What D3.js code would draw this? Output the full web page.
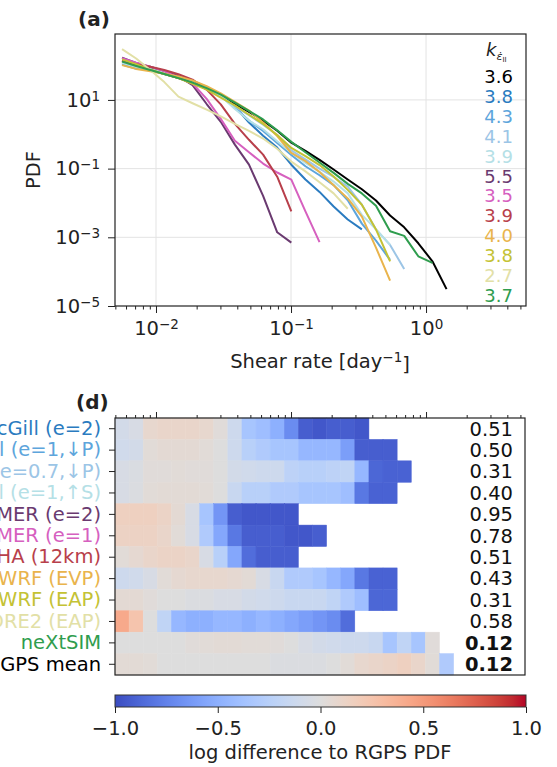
<!DOCTYPE html>
<html>
<head>
<meta charset="utf-8">
<script src="https://cdn.jsdelivr.net/npm/d3@7"></script>
<style>
  body { margin: 0; background: #fff; }
  svg { display: block; font-family: "DejaVu Sans", sans-serif; }
</style>
</head>
<body>
<svg id="fig" width="557" height="767"></svg>
<script>
// shear rate bin edges [day^-1], same bins for the PDFs and the difference map
const shearEdges = [0.00497, 0.00632, 0.00804, 0.01022, 0.0130, 0.01654, 0.02104, 0.02676, 0.03404, 0.0433,
    0.05508, 0.07006, 0.08913, 0.1134, 0.1442, 0.1834, 0.2333, 0.2968, 0.3776, 0.4803,
    0.6109, 0.7772, 0.9886, 1.258, 1.600];

// (a) PDFs, one value per bin
const pdfRGPS = [135, 97, 74, 57, 43, 31, 21, 13, 7.7, 4.5, 2.5, 1.26, 0.57, 0.33, 0.18, 0.094, 0.048, 0.025, 0.0118, 0.0043, 0.00195, 0.00067, 0.0002, 3.1e-5];
const pdfMcGillE2 = [115, 92, 85, 66, 50, 36, 24, 13.5, 6.5, 2.2, 0.9, 0.41, 0.13, 0.048, 0.021, 0.0079, 0.0033, 0.0017];
const pdfMcGillE1P = [107, 81, 79, 64, 48, 35, 22.5, 13, 5.8, 2.5, 1.25, 0.56, 0.25, 0.117, 0.064, 0.033, 0.012, 0.0025, 0.0008, 0.00022];
const pdfMcGillE07P = [120, 91, 75, 58, 46, 32, 21.5, 13, 6.4, 3.6, 1.9, 0.95, 0.34, 0.185, 0.10, 0.057, 0.030, 0.0089, 0.0017, 0.0006, 0.00012];
const pdfMcGillE1S = [120, 92, 79, 62, 47, 34, 22.5, 13, 5.45, 2.5, 1.4, 0.63, 0.29, 0.147, 0.08, 0.042, 0.019, 0.0045, 0.0017, 0.0006];
const pdfMerE2 = [170, 120, 92, 70, 48, 27, 7.6, 2.3, 0.5, 0.13, 0.016, 0.0014, 0.0007];
const pdfMerE1 = [165, 122, 93, 69, 45, 30, 10.7, 2.8, 0.65, 0.3, 0.14, 0.077, 0.048, 0.0057, 0.00072];
const pdfHA = [140, 110, 92, 74, 56, 39, 20, 7.4, 2.0, 0.69, 0.255, 0.058, 0.0057];
const pdfWrfEvp = [103, 80, 68, 58, 48, 37, 25, 15.6, 8.8, 4.9, 2.2, 0.89, 0.285, 0.165, 0.08, 0.033, 0.0135, 0.004, 0.0005, 5.5e-5];
const pdfWrfEap = [151, 109, 77, 57, 43, 29.6, 20, 11.6, 6.9, 3.7, 2.0, 0.95, 0.40, 0.23, 0.127, 0.059, 0.024, 0.0089, 0.0017, 0.0002];
const pdfCore2Eap = [302, 161, 74, 33, 12.5, 8, 5.2, 3.3, 2.0, 1.25, 0.75, 0.38, 0.16, 0.083, 0.040, 0.019, 0.0068];
const pdfNextsim = [130, 97, 74, 57, 43, 32, 22, 14.2, 8.4, 4.8, 2.7, 1.3, 0.6, 0.30, 0.15, 0.075, 0.036, 0.019, 0.0083, 0.0015, 0.0011, 0.00028, 0.00018];

const legendK = ["3.6", "3.8", "4.3", "4.1", "3.9", "5.5", "3.5", "3.9", "4.0", "3.8", "2.7", "3.7"];

// (d) log difference to RGPS PDF, one row per model
const diffMcGillE2 = [-0.08, -0.05, 0.08, 0.1, 0.1, 0.1, 0.08, 0.02, -0.12, -0.35, -0.4, -0.5, -0.7, -0.92, -0.95, -0.92, -0.92, -0.95];
const diffMcGillE1P = [-0.1, -0.08, 0.03, 0.05, 0.05, 0.05, 0.03, 0.0, -0.12, -0.25, -0.3, -0.35, -0.35, -0.45, -0.45, -0.45, -0.6, -0.92, -0.92, -0.92];
const diffMcGillE07P = [-0.05, -0.03, 0.02, 0.02, 0.03, 0.02, 0.02, 0.0, -0.08, -0.1, -0.12, -0.12, -0.22, -0.25, -0.25, -0.22, -0.2, -0.45, -0.88, -0.9, -0.9];
const diffMcGillE1S = [-0.05, -0.02, 0.03, 0.04, 0.04, 0.04, 0.03, 0.0, -0.15, -0.25, -0.25, -0.3, -0.3, -0.35, -0.35, -0.35, -0.4, -0.8, -0.9, -0.9];
const diffMerE2 = [0.15, 0.15, 0.15, 0.12, 0.05, -0.05, -0.35, -0.65, -0.92, -0.95, -0.95, -0.95, -0.95];
const diffMerE1 = [0.13, 0.13, 0.13, 0.1, 0.03, -0.05, -0.3, -0.55, -0.8, -0.92, -0.92, -0.92, -0.95, -0.95, -0.92];
const diffHA = [0.03, 0.06, 0.1, 0.12, 0.12, 0.1, -0.05, -0.25, -0.55, -0.85, -0.92, -0.92, -0.92];
const diffWrfEvp = [-0.12, -0.1, -0.05, 0.03, 0.06, 0.08, 0.08, 0.08, 0.06, 0.04, -0.05, -0.15, -0.3, -0.3, -0.35, -0.45, -0.55, -0.8, -0.9, -0.9];
const diffWrfEap = [0.05, 0.05, 0.02, 0.0, 0.0, -0.02, -0.02, -0.05, -0.05, -0.08, -0.1, -0.12, -0.15, -0.15, -0.15, -0.2, -0.3, -0.4, -0.88, -0.88];
const diffCore2Eap = [0.42, 0.25, 0.0, -0.2, -0.45, -0.5, -0.5, -0.45, -0.45, -0.5, -0.45, -0.5, -0.55, -0.6, -0.65, -0.7, -0.85];
const diffNextsim = [0.0, 0.0, 0.0, 0.0, 0.0, 0.02, 0.03, 0.04, 0.04, 0.03, 0.03, 0.02, 0.0, -0.05, -0.08, -0.1, -0.12, -0.12, -0.15, -0.35, -0.2, -0.35, 0.02];
const diffRgpsMean = [0.04, 0.04, 0.03, 0.0, 0.0, 0.0, 0.0, 0.0, 0.0, 0.0, 0.0, -0.02, -0.02, -0.02, -0.02, 0.0, 0.03, 0.08, 0.1, 0.12, 0.15, 0.1, 0.03, -0.3];

const rowNames = ["McGill (e=2)", "McGill (e=1,\u2193P)", "McGill (e=0.7,\u2193P)", "McGill (e=1,\u2191S)",
    "UMER (e=2)", "UMER (e=1)", "ALPHA (12km)", "RASM-WRF (EVP)", "RASM-WRF (EAP)",
    "CICE-CORE2 (EAP)", "neXtSIM", "RGPS mean"];
const rowScores = ["0.51", "0.50", "0.31", "0.40", "0.95", "0.78", "0.51", "0.43", "0.31", "0.58", "0.12", "0.12"];
const colorbarTicks = [-1, -0.5, 0, 0.5, 1];

// palette
const modelColors = ["#2a7bc0", "#5da5dc", "#9cc5e6", "#b5e0e6", "#6a3a70", "#d660bf", "#b83f4b",
    "#e9b44c", "#c4c234", "#e2e0a6", "#2f9d4e"];
const lineColors = ["#000000"].concat(modelColors);
const rowColors = modelColors.concat(["#000000"]);
const coolwarmStops = ["#3b4cc0","#445acc","#4d68d7","#5775e1","#6282ea","#6c8ef1","#779af7","#82a5fb",
    "#8db0fe","#98b9ff","#a3c2ff","#aec9fd","#b8d0f9","#c2d5f4","#ccd9ee","#d5dbe6","#dddddd",
    "#e5d8d1","#ecd3c5","#f1ccb9","#f5c4ad","#f7bba0","#f7b194","#f7a687","#f49a7b","#f18d6f",
    "#ec7f63","#e57058","#de604d","#d55042","#cb3e38","#c0282f","#b40426"];

const pdfSeries = [pdfRGPS, pdfMcGillE2, pdfMcGillE1P, pdfMcGillE07P, pdfMcGillE1S, pdfMerE2, pdfMerE1,
    pdfHA, pdfWrfEvp, pdfWrfEap, pdfCore2Eap, pdfNextsim];
const diffRows = [diffMcGillE2, diffMcGillE1P, diffMcGillE07P, diffMcGillE1S, diffMerE2, diffMerE1,
    diffHA, diffWrfEvp, diffWrfEap, diffCore2Eap, diffNextsim, diffRgpsMean];

const binCenters = shearEdges.slice(0, -1).map((e, i) => Math.sqrt(e * shearEdges[i + 1]));

const FS = 19.5;
const TXT = "#222";
const svg = d3.select("#fig");

const coolwarm = d3.scaleLinear()
    .domain(coolwarmStops.map((c, i) => -1 + 2 * i / (coolwarmStops.length - 1)))
    .range(coolwarmStops)
    .clamp(true);

// x scale shared by both panels
const x = d3.scaleLog().domain([0.00497, 5.5]).range([115, 526]);
const y = d3.scaleLog().domain([1e-5, 830]).range([306, 34]);

const xMajor = [0.01, 0.1, 1];
const xMinor = [];
[0.001, 0.01, 0.1, 1].forEach(function (dec) {
    for (let m = 2; m <= 9; m++) {
        const v = +(m * dec).toPrecision(3);
        if (v >= 0.00497 && v <= 5.5) xMinor.push(v);
    }
});
const yMajor = [10, 0.1, 1e-3, 1e-5];

function powerLabel(sel) {
    sel.each(function (d) {
        const t = d3.select(this);
        const e = Math.round(Math.log10(d));
        t.text(null);
        t.append("tspan").text("10");
        t.append("tspan").attr("dy", "-0.45em").attr("font-size", 13.5)
            .text(e < 0 ? "\u2212" + (-e) : e);
    });
}

function cleanAxis(g) {
    g.attr("font-size", null).attr("font-family", null);
    g.select(".domain").remove();
    g.selectAll("line").attr("stroke", "#222").attr("stroke-width", 1);
    g.selectAll("text").attr("font-size", FS).attr("fill", TXT);
}

// ---------- panel (a) ----------
const pa = svg.append("g");

pa.selectAll(".hgrid").data(yMajor.slice(0, 3)).enter().append("line")
    .attr("x1", 115).attr("x2", 526)
    .attr("y1", d => y(d)).attr("y2", d => y(d))
    .attr("stroke", "#e3e3e3").attr("stroke-width", 1);
pa.selectAll(".vgrid").data(xMajor).enter().append("line")
    .attr("y1", 34).attr("y2", 306)
    .attr("x1", d => x(d)).attr("x2", d => x(d))
    .attr("stroke", "#e3e3e3").attr("stroke-width", 1);

const line = d3.line()
    .x((d, i) => x(binCenters[i]))
    .y(d => y(d));

pa.selectAll(".pdf").data(pdfSeries).enter().append("path")
    .attr("d", d => line(d))
    .attr("fill", "none")
    .attr("stroke", (d, i) => lineColors[i])
    .attr("stroke-width", 2)
    .attr("stroke-linejoin", "round");

pa.append("g").attr("transform", "translate(0,306)")
    .call(d3.axisBottom(x).tickValues(xMinor).tickSize(3.5).tickFormat(""))
    .call(cleanAxis);
pa.append("g").attr("transform", "translate(0,306)")
    .call(d3.axisBottom(x).tickValues(xMajor).tickSize(7).tickPadding(8))
    .call(cleanAxis)
    .selectAll("text").call(powerLabel);

pa.append("g").attr("transform", "translate(115,0)")
    .call(d3.axisLeft(y).tickValues(yMajor).tickSize(7).tickPadding(8))
    .call(cleanAxis)
    .selectAll("text").call(powerLabel);

pa.append("rect").attr("x", 115).attr("y", 34).attr("width", 411).attr("height", 272)
    .attr("fill", "none").attr("stroke", "#222").attr("stroke-width", 1.2);

// legend with exponents
const kHead = pa.append("text").attr("x", 486).attr("y", 56).attr("fill", TXT).attr("font-size", 18);
kHead.append("tspan").attr("font-style", "italic").text("k");
kHead.append("tspan").attr("font-style", "italic").attr("font-size", 11).attr("dy", 4).text("\u03b5\u0307");
kHead.append("tspan").attr("font-size", 7).attr("dy", 2).text("II");

pa.selectAll(".kval").data(legendK).enter().append("text")
    .attr("x", 513).attr("y", (d, i) => 83 + 19.9 * i)
    .attr("text-anchor", "end").attr("font-size", 18)
    .attr("fill", (d, i) => lineColors[i])
    .text(d => d);

pa.append("text").attr("x", 78).attr("y", 26).attr("font-size", 20).attr("font-weight", "bold")
    .attr("fill", TXT).text("(a)");

pa.append("text").attr("transform", "translate(40,170) rotate(-90)")
    .attr("text-anchor", "middle").attr("font-size", FS).attr("fill", TXT).text("PDF");

const xl = pa.append("text").attr("x", 320).attr("y", 368).attr("text-anchor", "middle")
    .attr("font-size", FS).attr("fill", TXT);
xl.append("tspan").text("Shear rate [day");
xl.append("tspan").attr("dy", "-0.45em").attr("font-size", 13.5).text("\u22121");
xl.append("tspan").attr("dy", "0.45em").text("]");

// ---------- panel (d) ----------
const pd = svg.append("g");
const rowY = d3.scaleBand().domain(d3.range(rowNames.length)).range([418, 675]);

diffRows.forEach(function (row, r) {
    pd.selectAll(".cell-" + r).data(row).enter().append("rect")
        .attr("x", (d, k) => x(shearEdges[k]))
        .attr("width", (d, k) => x(shearEdges[k + 1]) - x(shearEdges[k]))
        .attr("y", rowY(r))
        .attr("height", rowY.bandwidth())
        .attr("fill", d => coolwarm(d))
        .attr("stroke", d => coolwarm(d))
        .attr("stroke-width", 0.5);
});

pd.append("g").attr("transform", "translate(0,418)")
    .call(d3.axisTop(x).tickValues(xMinor).tickSize(3).tickFormat(""))
    .call(cleanAxis);
pd.append("g").attr("transform", "translate(0,418)")
    .call(d3.axisTop(x).tickValues(xMajor).tickSize(6).tickFormat(""))
    .call(cleanAxis);

pd.append("g").attr("transform", "translate(115,0)")
    .call(d3.axisLeft(rowY).tickSize(6).tickPadding(8).tickFormat(i => rowNames[i]))
    .call(cleanAxis)
    .selectAll("text").attr("fill", (d, i) => rowColors[i]);

pd.selectAll(".score").data(rowScores).enter().append("text")
    .attr("x", 513).attr("y", (d, i) => rowY(i) + rowY.bandwidth() / 2)
    .attr("dy", "0.35em").attr("text-anchor", "end")
    .attr("font-size", FS).attr("fill", "#111")
    .attr("font-weight", (d, i) => i >= 10 ? "bold" : "normal")
    .text(d => d);

pd.append("rect").attr("x", 115).attr("y", 418).attr("width", 410).attr("height", 257)
    .attr("fill", "none").attr("stroke", "#222").attr("stroke-width", 1.2);

pd.append("text").attr("x", 76).attr("y", 409).attr("font-size", 20).attr("font-weight", "bold")
    .attr("fill", TXT).text("(d)");

// colorbar
const cb = d3.scaleLinear().domain([-1, 1]).range([115, 526]);
const grad = svg.append("defs").append("linearGradient").attr("id", "cw");
coolwarmStops.forEach(function (c, i) {
    grad.append("stop").attr("offset", (i / (coolwarmStops.length - 1) * 100) + "%").attr("stop-color", c);
});
svg.append("rect").attr("x", 115).attr("y", 695).attr("width", 411).attr("height", 12)
    .attr("fill", "url(#cw)").attr("stroke", "#333").attr("stroke-width", 1);
svg.append("g").attr("transform", "translate(0,707)")
    .call(d3.axisBottom(cb).tickValues(colorbarTicks).tickSize(6).tickPadding(8).tickFormat(d3.format(".1f")))
    .call(cleanAxis);
svg.append("text").attr("x", 320).attr("y", 759).attr("text-anchor", "middle")
    .attr("font-size", FS).attr("fill", TXT).text("log difference to RGPS PDF");
</script>
</body>
</html>
